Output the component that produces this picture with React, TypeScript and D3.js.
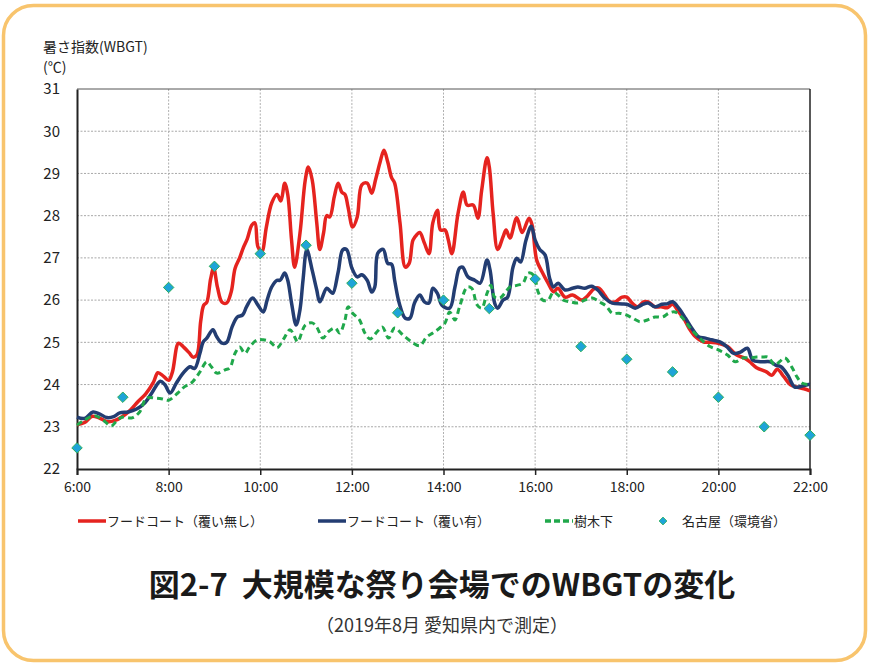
import React, { useEffect, useRef } from "react";
import * as d3 from "d3";

const X_TICK_HOURS = [6, 8, 10, 12, 14, 16, 18, 20, 22];
const X_TICK_LABELS = ["6:00", "8:00", "10:00", "12:00", "14:00", "16:00", "18:00", "20:00", "22:00"];
const Y_TICKS = [22, 23, 24, 25, 26, 27, 28, 29, 30, 31];

const SERIES_NAMES = ["フードコート（覆い無し）", "フードコート（覆い有）", "樹木下", "名古屋（環境省）"];

const RED_T = ["6:00","6:10","6:20","6:30","6:40","6:50","7:00","7:10","7:20","7:30","7:40","7:46","7:53","8:00","8:05","8:13","8:20","8:27","8:32","8:37","8:42","8:46","8:50","8:55","8:59","9:04","9:10","9:16","9:22","9:27","9:33","9:38","9:43","9:49","9:53","9:57","10:02","10:08","10:15","10:22","10:27","10:32","10:36","10:41","10:45","10:52","10:59","11:03","11:08","11:14","11:18","11:23","11:27","11:31","11:37","11:42","11:47","11:51","11:55","12:01","12:07","12:13","12:20","12:26","12:31","12:37","12:42","12:47","12:52","12:56","13:03","13:10","13:15","13:20","13:25","13:29","13:35","13:41","13:46","13:52","13:56","14:02","14:06","14:11","14:19","14:26","14:31","14:39","14:45","14:50","14:57","15:00","15:05","15:11","15:18","15:22","15:27","15:36","15:43","15:52","15:56","16:02","16:09","16:17","16:24","16:30","16:39","16:49","17:01","17:07","17:18","17:24","17:31","17:38","17:45","17:54","18:00","18:07","18:14","18:22","18:28","18:37","18:45","18:53","19:00","19:08","19:15","19:22","19:30","19:40","19:50","20:00","20:12","20:24","20:35","20:41","20:50","21:03","21:10","21:17","21:26","21:34","21:43","21:52","22:00"];
const RED_V = [23.05,23.1,23.25,23.2,23.12,23.15,23.25,23.4,23.6,23.78,24.05,24.28,24.2,24.1,24.3,24.98,24.88,24.75,24.65,24.7,25.5,25.88,25.95,26.5,26.76,26.3,25.95,25.93,26.2,26.75,27.0,27.25,27.45,27.78,27.83,27.26,27.15,27.73,28.3,28.5,28.35,28.77,28.5,27.42,26.78,27.58,28.85,29.15,28.85,27.83,27.2,27.6,28.0,27.97,28.45,28.77,28.55,28.5,28.2,27.73,27.97,28.73,28.77,28.53,28.85,29.27,29.55,29.27,28.9,28.77,27.83,26.78,26.87,27.42,27.55,27.6,27.35,27.1,27.83,28.13,27.66,27.66,27.45,27.1,28.05,28.56,28.25,28.25,27.94,28.6,29.37,29.15,28.05,27.2,27.5,27.66,27.47,27.95,27.6,27.94,27.78,26.95,26.67,26.4,26.2,26.28,26.07,26.12,26.0,26.07,26.28,26.28,26.12,25.96,25.96,26.07,26.07,25.93,25.84,25.96,25.96,25.84,25.84,25.82,25.9,25.72,25.55,25.32,25.13,25.01,25.0,24.98,24.9,24.7,24.62,24.54,24.4,24.3,24.22,24.36,24.18,24.0,23.94,23.9,23.85];

const BLUE_T = ["6:00","6:10","6:21","6:30","6:39","6:48","6:56","7:07","7:18","7:29","7:38","7:49","7:55","8:02","8:10","8:19","8:28","8:34","8:41","8:45","8:50","8:58","9:03","9:10","9:16","9:23","9:30","9:37","9:42","9:50","9:57","10:04","10:09","10:15","10:22","10:26","10:32","10:36","10:41","10:47","10:52","10:56","11:01","11:08","11:14","11:18","11:27","11:31","11:35","11:42","11:48","11:53","12:00","12:07","12:13","12:20","12:26","12:30","12:34","12:41","12:47","12:52","12:56","13:02","13:10","13:16","13:22","13:29","13:35","13:41","13:46","13:52","13:58","14:08","14:15","14:21","14:25","14:32","14:41","14:48","14:57","15:01","15:07","15:11","15:18","15:24","15:31","15:36","15:41","15:48","15:55","16:00","16:06","16:13","16:19","16:24","16:30","16:39","16:49","16:56","17:05","17:14","17:22","17:31","17:41","17:54","18:02","18:11","18:20","18:28","18:37","18:46","18:53","19:00","19:08","19:17","19:25","19:34","19:43","19:51","20:02","20:11","20:20","20:29","20:38","20:45","20:55","21:08","21:15","21:22","21:31","21:40","21:49","21:58","22:00"];
const BLUE_V = [23.23,23.2,23.35,23.3,23.22,23.24,23.33,23.35,23.42,23.57,23.8,24.08,24.0,23.8,24.03,24.27,24.42,24.38,24.74,25.0,25.1,25.3,25.13,24.98,25.0,25.36,25.6,25.65,25.84,26.05,25.88,25.72,26.0,26.31,26.47,26.47,26.64,26.47,25.93,25.41,25.77,26.47,27.19,26.71,26.24,25.96,26.28,26.22,26.16,26.66,27.19,27.2,26.76,26.55,26.6,26.47,26.19,26.31,27.11,27.2,26.87,26.85,26.47,25.93,25.57,25.57,25.93,26.12,25.96,25.93,26.28,26.16,25.88,25.81,26.31,26.76,26.78,26.55,26.47,26.4,26.95,26.71,25.93,25.81,26.0,26.07,26.78,26.99,26.9,27.42,27.75,27.42,27.2,27.07,26.52,26.31,26.4,26.24,26.28,26.31,26.28,26.33,26.24,26.05,25.93,25.91,25.89,25.81,25.89,25.93,25.84,25.9,25.91,25.96,25.81,25.57,25.34,25.13,25.1,25.06,25.01,24.9,24.74,24.77,24.86,24.58,24.54,24.54,24.46,24.42,24.22,23.94,23.96,24.0,24.0];

const GREEN_T = ["6:00","6:10","6:23","6:34","6:45","6:53","7:00","7:12","7:22","7:31","7:42","7:52","8:00","8:12","8:21","8:31","8:41","8:50","8:56","9:03","9:14","9:20","9:27","9:33","9:40","9:46","9:56","10:04","10:13","10:22","10:30","10:39","10:45","10:49","10:59","11:08","11:14","11:22","11:29","11:38","11:44","11:51","11:55","12:01","12:10","12:17","12:24","12:33","12:40","12:48","12:56","13:07","13:19","13:29","13:38","13:46","13:55","14:02","14:08","14:15","14:21","14:31","14:37","14:44","14:50","14:57","15:02","15:07","15:14","15:20","15:27","15:36","15:44","15:51","15:58","16:04","16:10","16:17","16:24","16:30","16:37","16:46","16:56","17:05","17:15","17:24","17:33","17:41","17:50","17:59","18:08","18:17","18:27","18:37","18:47","18:55","19:03","19:12","19:20","19:29","19:38","19:49","20:00","20:12","20:22","20:32","20:41","20:50","20:57","21:05","21:14","21:20","21:27","21:36","21:43","21:50","22:00"];
const GREEN_V = [23.04,23.16,23.26,23.16,23.02,23.16,23.23,23.21,23.35,23.68,23.68,23.66,23.63,23.8,23.95,24.06,24.3,24.54,24.42,24.27,24.35,24.39,24.74,24.89,24.74,24.89,25.06,25.06,25.01,24.87,25.06,25.3,25.13,25.01,25.41,25.46,25.36,25.1,25.25,25.34,25.22,25.53,25.84,25.69,25.53,25.22,25.08,25.25,25.36,25.1,25.34,25.17,25.0,24.92,25.13,25.22,25.34,25.46,25.72,25.53,25.84,26.31,26.28,25.89,25.81,26.16,26.35,26.07,26.05,26.16,26.31,26.35,26.4,26.64,26.59,26.19,26.0,26.0,26.19,26.12,26.0,25.96,25.93,26.0,26.05,25.96,25.86,25.69,25.69,25.65,25.57,25.49,25.53,25.6,25.6,25.69,25.72,25.6,25.41,25.22,25.06,24.9,24.82,24.7,24.54,24.63,24.63,24.65,24.65,24.65,24.46,24.54,24.63,24.42,24.18,24.03,24.0];

const NAGOYA_T = ["6:00","7:00","8:00","9:00","10:00","11:00","12:00","13:00","14:00","15:00","16:00","17:00","18:00","19:00","20:00","21:00","22:00"];
const NAGOYA_V = [22.5,23.7,26.3,26.8,27.1,27.3,26.4,25.7,26.0,25.8,26.5,24.9,24.6,24.3,23.7,23.0,22.8];

const toHour = (s: string) => {
  const [h, m] = s.split(":").map(Number);
  return h + m / 60;
};
const zip = (t: string[], v: number[]) => t.map((s, i) => ({ h: toHour(s), v: v[i] }));

const W = 869;
const H = 664;
const M = { left: 77, right: 810, top: 89, bottom: 469 };
const FONT = "'Noto Sans CJK JP', 'Noto Sans', sans-serif";

const RED = "#e5231f";
const BLUE = "#233d72";
const GREEN = "#20a84b";
const DIAMOND_FILL = "#1ea4d8";
const DIAMOND_STROKE = "#2db05a";

export default function App() {
  const ref = useRef<SVGSVGElement | null>(null);

  useEffect(() => {
    const svg = d3.select(ref.current);
    svg.selectAll("*").remove();

    const x = d3.scaleLinear().domain([6, 22]).range([M.left, M.right]);
    const y = d3.scaleLinear().domain([22, 31]).range([M.bottom, M.top]);

    // Frame
    svg.append("rect")
      .attr("x", 3.5).attr("y", 5.5)
      .attr("width", 862).attr("height", 655)
      .attr("rx", 30).attr("ry", 30)
      .attr("fill", "#fff")
      .attr("stroke", "#f8c46d")
      .attr("stroke-width", 3.5);

    // grid
    const grid = svg.append("g");
    Y_TICKS.filter((t) => t > 22 && t < 31).forEach((t) => {
      grid.append("line")
        .attr("x1", M.left).attr("x2", M.right)
        .attr("y1", y(t)).attr("y2", y(t))
        .attr("stroke", "#a8a8a8").attr("stroke-width", 1)
        .attr("stroke-dasharray", "2,1.5");
    });
    X_TICK_HOURS.filter((t) => t > 6 && t < 22).forEach((t) => {
      grid.append("line")
        .attr("x1", x(t)).attr("x2", x(t))
        .attr("y1", M.top).attr("y2", M.bottom)
        .attr("stroke", "#b0b0b0").attr("stroke-width", 1)
        .attr("stroke-dasharray", "2,1.5");
    });
    // top and right border
    svg.append("line").attr("x1", M.left).attr("x2", M.right).attr("y1", M.top).attr("y2", M.top)
      .attr("stroke", "#555").attr("stroke-width", 1);
    svg.append("line").attr("x1", M.right).attr("x2", M.right).attr("y1", M.top).attr("y2", M.bottom)
      .attr("stroke", "#222").attr("stroke-width", 1.5);

    // Y axis
    const yAxis = d3.axisLeft(y).tickValues(Y_TICKS).tickSize(0).tickPadding(17).tickFormat((d) => String(d));
    const gy = svg.append("g").attr("transform", `translate(${M.left},0)`).call(yAxis);
    gy.select(".domain").attr("stroke", "#222").attr("stroke-width", 2);
    gy.selectAll("text").attr("font-family", FONT).attr("font-size", 15).attr("fill", "#222");

    // X axis
    const xAxis = d3.axisBottom(x).tickValues(X_TICK_HOURS).tickSize(6).tickPadding(7)
      .tickFormat((d, i) => X_TICK_LABELS[i]);
    const gx = svg.append("g").attr("transform", `translate(0,${M.bottom})`).call(xAxis);
    gx.select(".domain").attr("stroke", "#222").attr("stroke-width", 2);
    gx.selectAll(".tick line").attr("stroke", "#222").attr("stroke-width", 1.5);
    gx.selectAll("text").attr("font-family", FONT).attr("font-size", 14).attr("fill", "#222");

    // Lines
    const line = d3.line<{ h: number; v: number }>()
      .x((d) => x(d.h)).y((d) => y(d.v))
      .curve(d3.curveCatmullRom.alpha(0.5));

    svg.append("path").datum(zip(RED_T, RED_V)).attr("d", line)
      .attr("fill", "none").attr("stroke", RED).attr("stroke-width", 3.5).attr("stroke-linejoin", "round");
    svg.append("path").datum(zip(BLUE_T, BLUE_V)).attr("d", line)
      .attr("fill", "none").attr("stroke", BLUE).attr("stroke-width", 3.5).attr("stroke-linejoin", "round");
    svg.append("path").datum(zip(GREEN_T, GREEN_V)).attr("d", line)
      .attr("fill", "none").attr("stroke", GREEN).attr("stroke-width", 3).attr("stroke-dasharray", "6,4");

    const diamond = d3.symbol().type(d3.symbolDiamond2).size(70);
    svg.append("g").selectAll("path").data(zip(NAGOYA_T, NAGOYA_V)).join("path")
      .attr("d", diamond)
      .attr("transform", (d) => `translate(${x(d.h)},${y(d.v)})`)
      .attr("fill", DIAMOND_FILL).attr("stroke", DIAMOND_STROKE).attr("stroke-width", 1);

    // Y title
    svg.append("text").attr("x", 43).attr("y", 52).text("暑さ指数(WBGT)")
      .attr("font-family", FONT).attr("font-size", 14).attr("fill", "#222");
    svg.append("text").attr("x", 43).attr("y", 72).text("(℃)")
      .attr("font-family", FONT).attr("font-size", 14).attr("fill", "#222");

    // Legend
    const legY = 521;
    const leg = svg.append("g");
    const items = [
      { x: 78, kind: "line", color: RED, dash: null },
      { x: 318, kind: "line", color: BLUE, dash: null },
      { x: 545, kind: "line", color: GREEN, dash: "6,3" },
      { x: 655, kind: "diamond", color: DIAMOND_FILL, dash: null },
    ];
    items.forEach((it, i) => {
      if (it.kind === "line") {
        leg.append("line").attr("x1", it.x).attr("x2", it.x + 28).attr("y1", legY).attr("y2", legY)
          .attr("stroke", it.color).attr("stroke-width", 3.5)
          .attr("stroke-dasharray", it.dash ? it.dash : null);
        leg.append("text").attr("x", it.x + 29).attr("y", legY + 5).text(SERIES_NAMES[i])
          .attr("font-family", FONT).attr("font-size", 13).attr("fill", "#222");
      } else {
        leg.append("path").attr("d", d3.symbol().type(d3.symbolDiamond2).size(40)())
          .attr("transform", `translate(${it.x + 8},${legY})`)
          .attr("fill", DIAMOND_FILL).attr("stroke", DIAMOND_STROKE).attr("stroke-width", 0.8);
        leg.append("text").attr("x", it.x + 27).attr("y", legY + 5).text(SERIES_NAMES[i])
          .attr("font-family", FONT).attr("font-size", 13).attr("fill", "#222");
      }
    });

    // Title
    svg.append("text").attr("x", 442).attr("y", 596).attr("text-anchor", "middle")
      .text("図2-7  大規模な祭り会場でのWBGTの変化")
      .attr("font-family", FONT).attr("font-size", 31).attr("font-weight", "bold").attr("fill", "#1a1a1a")
      .attr("xml:space", "preserve").style("white-space", "pre");
    svg.append("text").attr("x", 442).attr("y", 632).attr("text-anchor", "middle")
      .text("（2019年8月 愛知県内で測定）")
      .attr("font-family", FONT).attr("font-size", 18).attr("fill", "#333");
  }, []);

  return (
    <svg
      ref={ref}
      width={W}
      height={H}
      style={{ position: "absolute", left: 0, top: 0, background: "#fff" }}
    />
  );
}
